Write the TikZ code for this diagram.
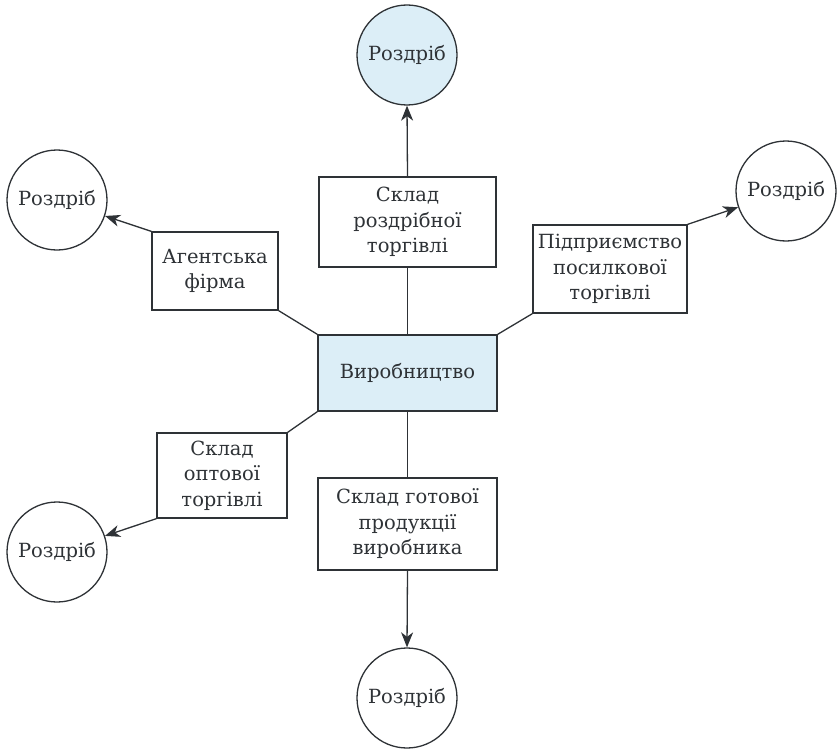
\documentclass[tikz,border=0pt]{standalone}
\usepackage{fontspec}
\setmainfont{DejaVu Serif}
\usetikzlibrary{arrows.meta}
\definecolor{ink}{HTML}{2E3236}
\definecolor{wm}{HTML}{DCEEF7}
\tikzset{
  box/.style={draw=ink, line width=1.3pt, fill=white, align=center, inner sep=0pt, text=ink,
    font=\fontsize{19.5}{25.5}\selectfont},
  retail/.style={draw=ink, line width=1.3pt, fill=white, circle, minimum size=100pt, inner sep=0pt, text=ink,
    font=\fontsize{19.5}{25.5}\selectfont},
  link/.style={draw=ink, line width=1.3pt},
  arr/.style={link, -{Stealth[length=15pt,width=12pt,inset=4.5pt]}}
}
\begin{document}
\begin{tikzpicture}[x=1pt,y=-1pt]
\useasboundingbox (0,0) rectangle (837,749);
% boxes
\node[box, fill=wm, minimum width=179pt, minimum height=76pt] (prod) at (407.5,373) {Виробництво};
\node[box, minimum width=177pt, minimum height=90pt] (retailwh) at (407.5,222) {Склад\\роздрібної\\торгівлі};
\node[box, minimum width=126pt, minimum height=78pt] (agent) at (215,271) {Агентська\\фірма};
\node[box, minimum width=154pt, minimum height=88pt] (mail) at (610,269) {Підприємство\\посилкової\\торгівлі};
\node[box, minimum width=130pt, minimum height=85pt] (whole) at (222,475.5) {Склад\\оптової\\торгівлі};
\node[box, minimum width=179pt, minimum height=92pt] (finished) at (407.5,524) {Склад готової\\продукції\\виробника};
% circles
\node[retail, fill=wm] (rtop) at (407,55) {Роздріб};
\node[retail] (rleft) at (57,200) {Роздріб};
\node[retail] (rright) at (786,191) {Роздріб};
\node[retail] (rbl) at (57,552) {Роздріб};
\node[retail] (rbot) at (407,698) {Роздріб};
% links
\draw[link] (prod.north) -- (retailwh.south);
\draw[arr] (retailwh.north) -- (rtop.south);
\draw[link] (prod.north west) -- (agent.south east);
\draw[arr] (agent.north west) -- (rleft);
\draw[link] (prod.north east) -- (mail.south west);
\draw[arr] (mail.north east) -- (rright);
\draw[link] (prod.south west) -- (whole.north east);
\draw[arr] (whole.south west) -- (rbl);
\draw[link] (prod.south) -- (finished.north);
\draw[arr] (finished.south) -- (rbot.north);
\end{tikzpicture}
\end{document}
